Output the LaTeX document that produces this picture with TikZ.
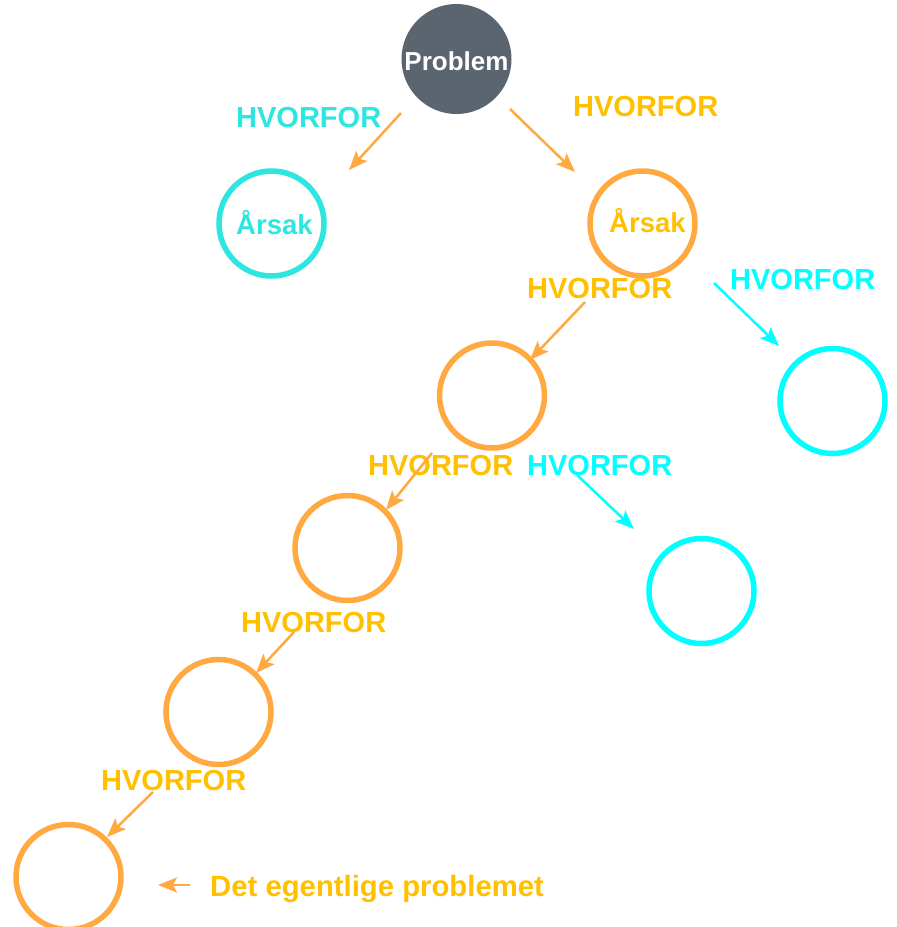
\documentclass[tikz,border=0pt]{standalone}
\usepackage{fontspec}
\setmainfont{Liberation Sans}
\usetikzlibrary{arrows.meta}
\definecolor{orangeline}{HTML}{FFA940}
\definecolor{goldtext}{HTML}{FFC000}
\definecolor{turq}{HTML}{2EE6E0}
\definecolor{cyanline}{HTML}{00FFFF}
\definecolor{probgray}{HTML}{5A6570}
\tikzset{
  ring/.style={circle, draw=#1, line width=5.5pt, minimum size=105pt, inner sep=0pt},
  lbl/.style={inner sep=0pt, anchor=base west, font=\bfseries\fontsize{29}{29}\selectfont, text=#1},
  arr/.style={draw=#1, line width=2.5pt, -{Stealth[length=19pt,width=15pt,inset=4pt]}},
}
\begin{document}
\begin{tikzpicture}[x=1pt,y=-1pt]
\useasboundingbox (0,0) rectangle (897,927);
\clip (0,0) rectangle (897,927);
\fill[white] (0,0) rectangle (897,927);

% circles
\node[circle, fill=probgray, minimum size=110pt, inner sep=0pt] (prob) at (456.5,59) {};
\node[inner sep=0pt, anchor=base, font=\bfseries\fontsize{26}{26}\selectfont, text=white] (probt) at (456.5,70) {Problem};
\node[ring=turq] (c1) at (271.5,223.5) {};
\node[ring=orangeline] (c2) at (642.5,223.5) {};
\node[ring=orangeline] (c3) at (492,395.5) {};
\node[ring=cyanline] (c4) at (832.5,401) {};
\node[ring=orangeline] (c5) at (347.5,548) {};
\node[ring=cyanline] (c6) at (701.5,591) {};
\node[ring=orangeline] (c7) at (218.5,712) {};
\node[ring=orangeline] (c8) at (68.5,877) {};

\node[inner sep=0pt, anchor=base west, font=\bfseries\fontsize{27.5}{27.5}\selectfont, text=turq] (a1) at (236,234) {Årsak};
\node[inner sep=0pt, anchor=base west, font=\bfseries\fontsize{27.5}{27.5}\selectfont, text=goldtext] (a2) at (609,232) {Årsak};

% labels
\node[lbl=turq] (h1) at (236,127) {HVORFOR};
\node[lbl=goldtext] (h2) at (573,116) {HVORFOR};
\node[lbl=goldtext] (h3) at (527,298) {HVORFOR};
\node[lbl=cyanline] (h4) at (730,289) {HVORFOR};
\node[lbl=goldtext] (h5) at (368,475) {HVORFOR};
\node[lbl=cyanline] (h6) at (527,475) {HVORFOR};
\node[lbl=goldtext] (h7) at (241,632) {HVORFOR};
\node[lbl=goldtext] (h8) at (101,790) {HVORFOR};
\node[inner sep=0pt, anchor=base west, font=\bfseries\fontsize{29.3}{29.3}\selectfont, text=goldtext] (det) at (210,896.5) {Det egentlige problemet};

% arrow end points
\coordinate (s1) at (401,113); \coordinate (e1) at (349,170);
\coordinate (s2) at (510,109); \coordinate (e2) at (575,172);
\coordinate (s3) at (585,302); \coordinate (e3) at (530,360);
\coordinate (s4) at (714,283); \coordinate (e4) at (779,346);
\coordinate (s5) at (432,453); \coordinate (e5) at (386,510);
\coordinate (s6) at (577,475); \coordinate (e6) at (634,529);
\coordinate (s7) at (294,632); \coordinate (e7) at (256,673);
\coordinate (s8) at (153,792); \coordinate (e8) at (107,837);
\coordinate (s9) at (190,885); \coordinate (e9) at (158,885);

\draw[arr=orangeline] (s1) -- (e1);
\draw[arr=orangeline] (s2) -- (e2);
\draw[arr=orangeline] (s3) -- (e3);
\draw[arr=cyanline] (s4) -- (e4);
\draw[arr=orangeline] (s5) -- (e5);
\draw[arr=cyanline] (s6) -- (e6);
\draw[arr=orangeline] (s7) -- (e7);
\draw[arr=orangeline] (s8) -- (e8);
\draw[arr=orangeline] (s9) -- (e9);
\end{tikzpicture}
\end{document}
